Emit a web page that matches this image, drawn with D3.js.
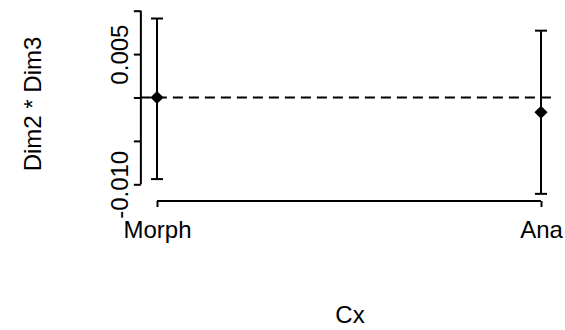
<!DOCTYPE html>
<html>
<head>
<meta charset="utf-8">
<script src="https://d3js.org/d3.v7.min.js"></script>
<style>
    body { margin: 0; background: #fff; }
    svg { display: block; }
    text { font-family: "Liberation Sans", Arial, sans-serif; font-size: 24px; fill: #000; }
</style>
</head>
<body>
<svg id="chart"></svg>
<script>
// data
const groups = ["Morph", "Ana"]
const means = [0.0000, -0.0017]
const lowers = [-0.0094, -0.0111]
const uppers = [0.0091, 0.0077]
const yTicks = [-0.010, -0.005, 0.000, 0.005, 0.010]
const yShown = ["-0.010", "0.005"]

const WIDTH = 565
const HEIGHT = 330

const svg = d3.select("#chart").attr("width", WIDTH).attr("height", HEIGHT)

// group index 1..2 -> pixels, plot region spans a bit past the groups
const x = d3.scaleLinear().domain([1, 2]).range([157, 541])
const xLeft = x(0.958), xRight = x(2.029)
const y = d3.scaleLinear().domain([-0.010, 0.010]).range([184.3, 10.7])

// reference line at zero
svg.append("line")
    .attr("x1", xLeft).attr("x2", xRight)
    .attr("y1", y(0)).attr("y2", y(0))
    .attr("stroke", "#000").attr("stroke-width", 2)
    .attr("stroke-dasharray", "10,6")

// y axis (R style: ticks left, labels rotated)
const yAxis = d3.axisLeft(y)
    .tickValues(yTicks)
    .tickSize(7)
    .tickPadding(13)
    .tickFormat(d => {
        const s = d3.format(".3f")(d).replace("−", "-")
        return yShown.includes(s) ? s : ""
    })

const gy = svg.append("g")
    .attr("transform", `translate(${xLeft},0)`)
    .call(yAxis)
gy.select(".domain").attr("d", `M0,${y(0.010)}V${y(-0.010)}`).attr("stroke-width", 2)
gy.selectAll(".tick line").attr("stroke-width", 2)
gy.selectAll(".tick text")
    .attr("transform", "rotate(-90)")
    .attr("x", 0).attr("y", -13)
    .attr("dy", 0)
    .attr("text-anchor", "middle")
    .style("font-family", "Liberation Sans, Arial, sans-serif")
    .style("font-size", "24px")

// x axis
const xAxis = d3.axisBottom(x)
    .tickValues([1, 2])
    .tickSize(6)
    .tickPadding(14)
    .tickFormat((d, i) => groups[i])

const gx = svg.append("g")
    .attr("transform", "translate(0,201)")
    .call(xAxis)
gx.select(".domain").attr("d", `M${x(1)},0H${x(2)}`).attr("stroke-width", 2)
gx.selectAll(".tick line").attr("stroke-width", 2)
gx.selectAll(".tick text")
    .attr("dy", "0.71em")
    .style("font-family", "Liberation Sans, Arial, sans-serif")
    .style("font-size", "24px")

// error bars
const bars = svg.append("g")
groups.forEach((g, i) => {
    const cx = x(i + 1)
    bars.append("line")
        .attr("x1", cx).attr("x2", cx)
        .attr("y1", y(uppers[i])).attr("y2", y(lowers[i]))
        .attr("stroke", "#000").attr("stroke-width", 2)
    ;[uppers[i], lowers[i]].forEach(v => {
        bars.append("line")
            .attr("x1", cx - 6).attr("x2", cx + 6)
            .attr("y1", y(v)).attr("y2", y(v))
            .attr("stroke", "#000").attr("stroke-width", 2)
    })
    // filled diamond point
    bars.append("path")
        .attr("d", d3.symbol(d3.symbolDiamond2, 110)())
        .attr("transform", `translate(${cx},${y(means[i])})`)
        .attr("fill", "#000")
})

// axis titles
svg.append("text")
    .attr("transform", "translate(41,104) rotate(-90)")
    .attr("text-anchor", "middle")
    .text("Dim2 * Dim3")

svg.append("text")
    .attr("x", 350).attr("y", 323)
    .attr("text-anchor", "middle")
    .text("Cx")
</script>
</body>
</html>
